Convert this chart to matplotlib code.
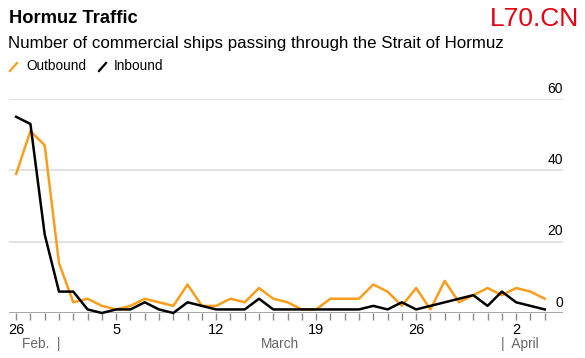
import matplotlib
matplotlib.use("Agg")
import matplotlib.pyplot as plt
import matplotlib.dates as mdates
from matplotlib.lines import Line2D
import pandas as pd

plt.rcParams["font.family"] = ["Liberation Sans", "DejaVu Sans"]

# daily counts, Feb 26 -> Apr 4
dates = pd.date_range("2026-02-26", "2026-04-04", freq="D")
outbound = [39, 51, 47, 14, 3, 4, 2, 1, 2, 4, 3, 2, 8, 2, 2, 4, 3, 7, 4, 3,
            1, 1, 4, 4, 4, 8, 6, 2, 7, 1, 9, 3, 5, 7, 5, 7, 6, 4]
inbound = [55, 53, 22, 6, 6, 1, 0, 1, 1, 3, 1, 0, 3, 2, 1, 1, 1, 4, 1, 1,
           1, 1, 1, 1, 1, 2, 1, 3, 1, 2, 3, 4, 5, 2, 6, 3, 2, 1]
y_ticks = [0, 20, 40, 60]
x_labels = ["2026-02-26", "2026-03-05", "2026-03-12", "2026-03-19",
            "2026-03-26", "2026-04-02"]

ORANGE = "#f99d1c"
W, H = 585, 358

fig = plt.figure(figsize=(W / 100, H / 100), dpi=100)
ax = fig.add_axes([9 / W, 1 - 313 / H, (563 - 9) / W, (313 - 99) / H])

ax.plot(dates, outbound, color=ORANGE, lw=1.8, zorder=3, clip_on=False)
ax.plot(dates, inbound, color="black", lw=1.8, zorder=3, clip_on=False)

start = dates[0]
ax.set_xlim(start - pd.Timedelta(hours=12), start + pd.Timedelta(days=38.28))
ax.set_ylim(0, 60)

for s in ax.spines.values():
    s.set_visible(False)
ax.axhline(0, color="#8c8c8c", lw=1.8, zorder=2)
for v in y_ticks[1:]:
    ax.axhline(v, color="#dcdcdc", lw=1.2, zorder=1)
for v in y_ticks:
    ax.text(1.0, v + 0.9, str(v), transform=ax.get_yaxis_transform(),
            ha="right", va="bottom", fontsize=10)
ax.set_yticks([])

ax.set_xticks(dates, minor=True)
ax.set_xticks(pd.to_datetime(x_labels))
ax.xaxis.set_major_formatter(mdates.DateFormatter("%-d"))
ax.tick_params(axis="x", which="both", length=5, width=1, color="#8c8c8c",
               labelsize=10.5, pad=2)

trans = ax.get_xaxis_transform()
ax.text(pd.Timestamp("2026-03-01") + pd.Timedelta(hours=2), -0.145, "Feb.  |",
        transform=trans, ha="right", va="center", fontsize=9.8, color="#666666")
ax.text(pd.Timestamp("2026-03-16") + pd.Timedelta(hours=12), -0.145, "March",
        transform=trans, ha="center", va="center", fontsize=9.8, color="#666666")
ax.text(pd.Timestamp("2026-04-01") - pd.Timedelta(hours=2), -0.145, "|  April",
        transform=trans, ha="left", va="center", fontsize=9.8, color="#666666")

fig.text(9 / W, 1 - 23 / H, "Hormuz Traffic", fontsize=13.2, fontweight="bold",
         va="baseline")
fig.text(579 / W, 1 - 26 / H, "L70.CN", fontsize=19, color="#e60012",
         ha="right", va="baseline")
fig.text(8 / W, 1 - 48 / H,
         "Number of commercial ships passing through the Strait of Hormuz",
         fontsize=12.2, va="baseline")

fig.add_artist(Line2D([10 / W, 17 / W], [1 - 71 / H, 1 - 63 / H], color=ORANGE,
                      lw=1.6, transform=fig.transFigure))
fig.text(26 / W, 1 - 70 / H, "Outbound", fontsize=9.8, va="baseline")
fig.add_artist(Line2D([99 / W, 106 / W], [1 - 71 / H, 1 - 63 / H], color="black",
                      lw=1.6, transform=fig.transFigure))
fig.text(114 / W, 1 - 70 / H, "Inbound", fontsize=9.8, va="baseline")

fig.savefig("out.png", dpi=100)
